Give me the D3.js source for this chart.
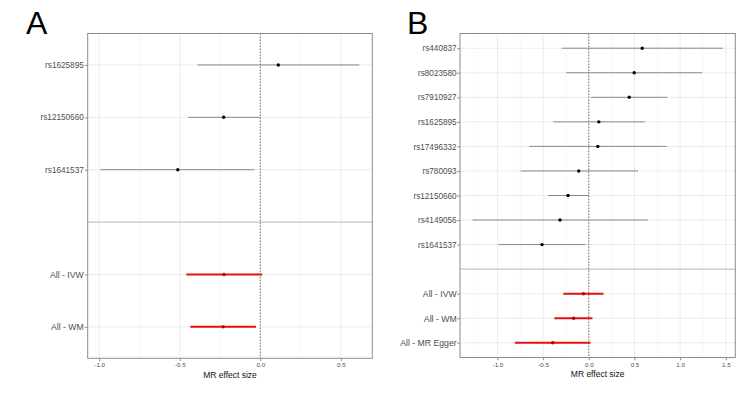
<!DOCTYPE html>
<html><head><meta charset="utf-8">
<script src="https://cdn.jsdelivr.net/npm/d3@7"></script>
<style>
html,body{margin:0;padding:0;background:#fff;}
svg{display:block;font-family:"Liberation Sans",Arial,Helvetica,sans-serif;}
</style></head>
<body><svg id="chart" width="750" height="401"></svg>
<script>
// ---- Panel A data ----
const snpsA = ["rs1625895", "rs12150660", "rs1641537"];
const snpBetaA = [0.112, -0.227, -0.512];
const snpLowA = [-0.390, -0.447, -0.991];
const snpHighA = [0.615, 0.0, -0.036];
const methodsA = ["All - IVW", "All - WM"];
const methodBetaA = [-0.225, -0.231];
const methodLowA = [-0.459, -0.434];
const methodHighA = [0.012, -0.027];

// ---- Panel B data ----
const snpsB = ["rs440837", "rs8023580", "rs7910927", "rs1625895", "rs17496332", "rs780093", "rs12150660", "rs4149056", "rs1641537"];
const snpBetaB = [0.585, 0.497, 0.443, 0.110, 0.099, -0.110, -0.227, -0.315, -0.512];
const snpLowB = [-0.296, -0.249, 0.026, -0.390, -0.651, -0.746, -0.447, -1.273, -0.991];
const snpHighB = [1.467, 1.240, 0.860, 0.615, 0.853, 0.538, 0.0, 0.648, -0.036];
const methodsB = ["All - IVW", "All - WM", "All - MR Egger"];
const methodBetaB = [-0.058, -0.165, -0.395];
const methodLowB = [-0.278, -0.377, -0.809];
const methodHighB = [0.161, 0.040, 0.019];

const xTickStep = 0.5;
const axisTitle = "MR effect size";

const svg = d3.select("#chart");
const fmt = v => d3.format(".1f")(v).replace("\u2212", "-");

function panel(opts) {
  const {label, labelX, left, right, top, bottom, ypad, snps, sb, sl, sh, methods, mb, ml, mh} = opts;
  const g = svg.append("g");
  const allLo = sl.concat(ml), allHi = sh.concat(mh);
  const mn = d3.min(allLo), mx = d3.max(allHi);
  const ex = (mx - mn) * 0.05;
  const x = d3.scaleLinear().domain([mn - ex, mx + ex]).range([left, right]);
  const sep = "__sep__";
  const cats = snps.concat([sep], methods);
  const y = d3.scalePoint().domain(cats).range([top, bottom]).padding(0.6);

  g.append("rect").attr("x", left).attr("y", top).attr("width", right - left).attr("height", bottom - top).attr("fill", "#fff");

  const [d0, d1] = x.domain();
  const major = d3.range(Math.ceil(d0 / xTickStep) * xTickStep, d1 + 1e-9, xTickStep);
  const minor = d3.range(Math.ceil((d0 - xTickStep / 2) / xTickStep) * xTickStep + xTickStep / 2, d1, xTickStep).filter(v => v > d0);
  g.selectAll(".minx").data(minor).join("line")
    .attr("x1", d => x(d)).attr("x2", d => x(d)).attr("y1", top).attr("y2", bottom)
    .attr("stroke", "#f4f4f4").attr("stroke-width", 0.6);
  g.selectAll(".majx").data(major).join("line")
    .attr("x1", d => x(d)).attr("x2", d => x(d)).attr("y1", top).attr("y2", bottom)
    .attr("stroke", "#ebebeb").attr("stroke-width", 1);
  g.selectAll(".majy").data(cats).join("line")
    .attr("x1", left).attr("x2", right).attr("y1", d => y(d)).attr("y2", d => y(d))
    .attr("stroke", "#ebebeb").attr("stroke-width", 1);

  g.append("line").attr("x1", left).attr("x2", right).attr("y1", y(sep)).attr("y2", y(sep))
    .attr("stroke", "#c8c8c8").attr("stroke-width", 1.4);

  g.append("line").attr("x1", x(0)).attr("x2", x(0)).attr("y1", top).attr("y2", bottom)
    .attr("stroke", "#555").attr("stroke-width", 0.8).attr("stroke-dasharray", "1.5,1.5");

  const snpData = snps.map((s, i) => ({s, b: sb[i], lo: sl[i], hi: sh[i]}));
  g.selectAll(".snpci").data(snpData).join("line")
    .attr("x1", d => x(d.lo)).attr("x2", d => x(d.hi)).attr("y1", d => y(d.s)).attr("y2", d => y(d.s))
    .attr("stroke", "#8a8a8a").attr("stroke-width", 1);
  g.selectAll(".snppt").data(snpData).join("circle")
    .attr("cx", d => x(d.b)).attr("cy", d => y(d.s)).attr("r", 1.7).attr("fill", "#000");

  const mData = methods.map((s, i) => ({s, b: mb[i], lo: ml[i], hi: mh[i]}));
  g.selectAll(".mci").data(mData).join("line")
    .attr("x1", d => x(d.lo)).attr("x2", d => x(d.hi)).attr("y1", d => y(d.s)).attr("y2", d => y(d.s))
    .attr("stroke", "#e31010").attr("stroke-width", 2);
  g.selectAll(".mpt").data(mData).join("circle")
    .attr("cx", d => x(d.b)).attr("cy", d => y(d.s)).attr("r", 1.7).attr("fill", "#b80000");

  g.append("rect").attr("x", left).attr("y", top).attr("width", right - left).attr("height", bottom - top)
    .attr("fill", "none").attr("stroke", "#8c8c8c").attr("stroke-width", 1);

  const xa = g.append("g").attr("transform", `translate(0,${bottom})`)
    .call(d3.axisBottom(x).tickValues(major).tickFormat(fmt).tickSize(2.75).tickPadding(2));
  xa.select(".domain").remove();
  xa.selectAll("line").attr("stroke", "#8c8c8c");
  xa.selectAll("text").attr("fill", "#4d4d4d").attr("font-size", "6.2px");

  const ya = g.append("g").attr("transform", `translate(${left},0)`)
    .call(d3.axisLeft(y).tickValues(cats.filter(c => c !== sep)).tickSize(2.75).tickPadding(ypad));
  ya.select(".domain").remove();
  ya.selectAll("line").attr("stroke", "#8c8c8c");
  ya.selectAll("text").attr("fill", "#4d4d4d")
    .attr("font-size", d => methods.includes(d) ? "8.7px" : "8.2px");

  g.append("text").attr("x", (left + right) / 2).attr("y", bottom + 19.2)
    .attr("text-anchor", "middle").attr("font-size", "8.5px").attr("fill", "#111").text(axisTitle);

  g.append("text").attr("x", labelX).attr("y", 34).attr("font-size", "32px").attr("fill", "#000").text(label);
}

panel({label: "A", labelX: 26, left: 87.7, right: 372.3, top: 33.5, bottom: 358.3, ypad: 1.2,
  snps: snpsA, sb: snpBetaA, sl: snpLowA, sh: snpHighA,
  methods: methodsA, mb: methodBetaA, ml: methodLowA, mh: methodHighA});
panel({label: "B", labelX: 407, left: 460, right: 735.3, top: 33.5, bottom: 357.5, ypad: 0.6,
  snps: snpsB, sb: snpBetaB, sl: snpLowB, sh: snpHighB,
  methods: methodsB, mb: methodBetaB, ml: methodLowB, mh: methodHighB});
</script>
</body></html>
